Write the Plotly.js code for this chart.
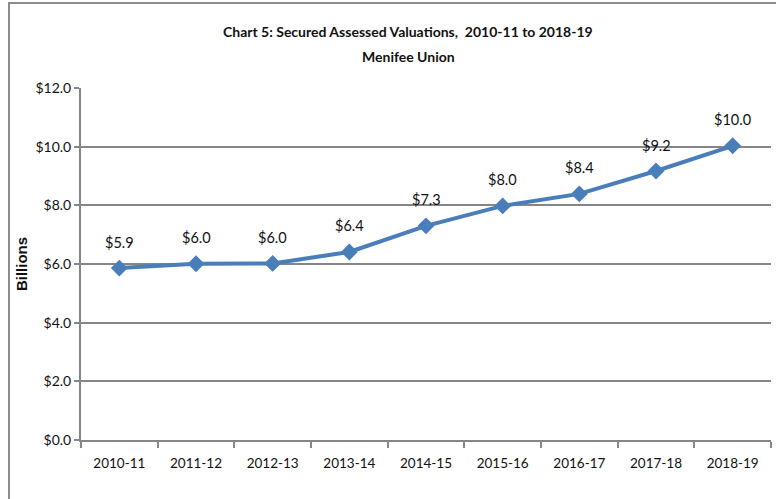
<!DOCTYPE html>
<html><head><meta charset="utf-8">
<script src="https://cdn.plot.ly/plotly-3.0.1.min.js"></script>
<style>html,body{margin:0;padding:0;background:#fff}#chart{width:776px;height:499px}</style>
</head><body><div id="chart"></div>
<script>
const categories = ["2010-11","2011-12","2012-13","2013-14","2014-15","2015-16","2016-17","2017-18","2018-19"];
const values = [5.86, 6.01, 6.02, 6.41, 7.30, 7.98, 8.39, 9.17, 10.03];
const valueLabels = ["$5.9","$6.0","$6.0","$6.4","$7.3","$8.0","$8.4","$9.2","$10.0"];
const yTicks = [0,2,4,6,8,10,12];
const yTickText = ["$0.0","$2.0","$4.0","$6.0","$8.0","$10.0","$12.0"];

const FONT = 'Lato, sans-serif';
const W = 776, H = 499, L = 81, R = 5, T = 88, B = 59;
const pw = W - L - R, ph = H - T - B;
const px = v => (v - L) / pw;
const py = v => (H - B - v) / ph;

const trace = {
  x: categories, y: values, type: 'scatter', mode: 'lines+markers',
  line: {color: '#4a7ebb', width: 4},
  marker: {symbol: 'diamond', size: 13, color: '#4a7ebb'},
  hoverinfo: 'skip'
};

const labelAnn = categories.map((c, i) => ({
  x: c, y: values[i], xref: 'x', yref: 'y', text: valueLabels[i],
  showarrow: false, yshift: 26, yanchor: 'middle', font: {family: FONT, size: 14.5, color: '#111'}
}));

const layout = {
  width: W, height: H,
  margin: {l: L, r: R, t: T, b: B},
  paper_bgcolor: '#fff', plot_bgcolor: '#fff',
  showlegend: false,
  xaxis: {
    type: 'category', showgrid: false, zeroline: false,
    showline: true, linecolor: '#868686', linewidth: 2,
    ticks: 'outside', tickson: 'boundaries', ticklen: 6, tickcolor: '#868686', tickwidth: 2,
    ticklabelstandoff: 10,
    tickfont: {family: FONT, size: 13.5, color: '#111'},
    range: [-0.5, 8.5], fixedrange: true
  },
  yaxis: {
    range: [0, 12], tickvals: yTicks, ticktext: yTickText,
    showgrid: true, gridcolor: '#868686', gridwidth: 2,
    zeroline: false, showline: true, linecolor: '#868686', linewidth: 2,
    ticks: 'outside', ticklen: 5, tickcolor: '#868686', tickwidth: 2,
    tickfont: {family: FONT, size: 14, color: '#111'},
    title: {text: 'Billions', font: {family: 'Liberation Sans, Arial, sans-serif', size: 15, color: '#111', weight: 'bold'}, standoff: 4},
    fixedrange: true
  },
  annotations: [
    {xref: 'paper', yref: 'paper', x: px(408), y: py(32), xanchor: 'center', yanchor: 'middle', text: '<b>Chart 5: Secured Assessed Valuations,  2010-11 to 2018-19</b>', showarrow: false, font: {family: FONT, size: 14, color: '#111'}},
    {xref: 'paper', yref: 'paper', x: px(408), y: py(57), xanchor: 'center', yanchor: 'middle', text: '<b>Menifee Union</b>', showarrow: false, font: {family: FONT, size: 14, color: '#111'}}
  ].concat(labelAnn),
  shapes: [
    {type: 'rect', xref: 'paper', yref: 'paper', x0: px(9), x1: px(790), y0: py(3), y1: py(520), line: {color: '#8c8c8c', width: 2}, fillcolor: 'rgba(0,0,0,0)', layer: 'below'}
  ]
};

Plotly.newPlot('chart', [trace], layout, {staticPlot: true, displayModeBar: false});
</script></body></html>
